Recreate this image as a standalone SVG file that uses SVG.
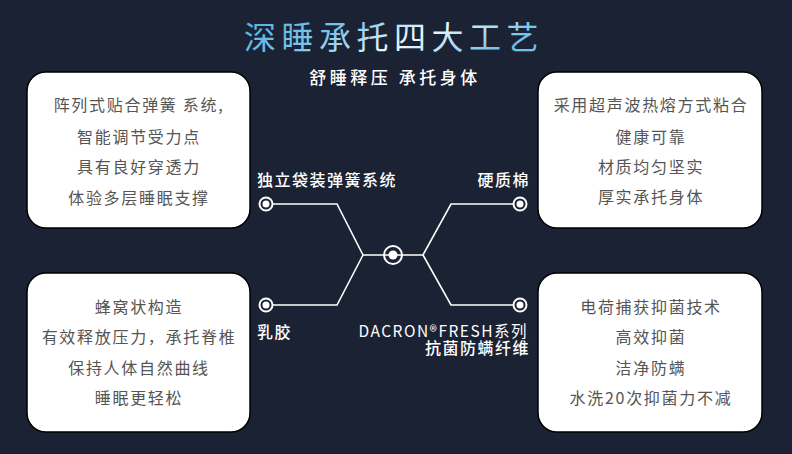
<svg xmlns="http://www.w3.org/2000/svg" width="792" height="454" viewBox="0 0 792 454">
<defs>
<linearGradient id="tg" x1="0" y1="0" x2="1" y2="0.3">
<stop offset="0" stop-color="#4fb0df"/>
<stop offset="0.4" stop-color="#7cc6ec"/>
<stop offset="0.68" stop-color="#f0f9ff"/>
<stop offset="1" stop-color="#6fc0ea"/>
</linearGradient>
</defs>
<style>
.box{fill:#ffffff;stroke:#000000;stroke-width:1.5}
.bt{font-family:"Noto Sans CJK SC","Noto Sans",sans-serif;font-size:16px;letter-spacing:1.7px;fill:#555555;text-anchor:middle}
.lb{font-family:"Noto Sans CJK SC","Noto Sans",sans-serif;font-size:16px;letter-spacing:1.5px;fill:#ffffff;font-weight:500}
.lat{font-family:"Noto Sans CJK SC","Noto Sans",sans-serif;font-size:15.5px;letter-spacing:1.5px;fill:#ffffff;font-weight:400}
.ln{fill:none;stroke:#ffffff;stroke-width:1.6}
.ring{fill:none;stroke:#ffffff;stroke-width:2}
.dot{fill:#ffffff}
</style>
<rect x="0" y="0" width="792" height="454" fill="#1b2233"/>
<text x="394" y="49" text-anchor="middle" font-family="'Noto Sans CJK SC',sans-serif" font-size="32" font-weight="400" letter-spacing="5.5" fill="url(#tg)">深睡承托四大工艺</text>
<text x="395" y="84" text-anchor="middle" font-family="'Noto Sans CJK SC',sans-serif" font-size="17" font-weight="500" letter-spacing="3.5" fill="#ffffff">舒睡释压 承托身体</text>

<g id="connectors">
<path class="ln" d="M273 204 H337 L363 255 H423 L451 204 H513"/>
<path class="ln" d="M273 305 H337 L363 255"/>
<path class="ln" d="M423 255 L451 305 H513"/>
</g>

<g id="hub">
<circle class="ring" cx="393" cy="255" r="9"/>
<circle class="dot" cx="393" cy="255" r="4.5"/>
</g>

<g id="node-spring">
<circle class="ring" cx="266" cy="204" r="6.5"/>
<circle class="dot" cx="266" cy="204" r="3.5"/>
<text class="lb" x="257" y="186">独立袋装弹簧系统</text>
</g>
<g id="node-cotton">
<circle class="ring" cx="520" cy="204" r="6.5"/>
<circle class="dot" cx="520" cy="204" r="3.5"/>
<text class="lb" x="530" y="186" text-anchor="end">硬质棉</text>
</g>
<g id="node-latex">
<circle class="ring" cx="266" cy="305" r="6.5"/>
<circle class="dot" cx="266" cy="305" r="3.5"/>
<text class="lb" x="257" y="338">乳胶</text>
</g>
<g id="node-dacron">
<circle class="ring" cx="520" cy="305" r="6.5"/>
<circle class="dot" cx="520" cy="305" r="3.5"/>
<text class="lat" x="528" y="337" text-anchor="end">DACRON®FRESH系列</text>
<text class="lb" x="530" y="354" text-anchor="end">抗菌防螨纤维</text>
</g>

<g id="box-spring">
<rect class="box" x="27" y="72" width="223" height="156" rx="19"/>
<text class="bt" x="139" y="111">阵列式贴合弹簧 系统,</text>
<text class="bt" x="139" y="143">智能调节受力点</text>
<text class="bt" x="139" y="173">具有良好穿透力</text>
<text class="bt" x="139" y="204">体验多层睡眠支撑</text>
</g>
<g id="box-cotton">
<rect class="box" x="538" y="72" width="224" height="156" rx="19"/>
<text class="bt" x="651" y="111">采用超声波热熔方式粘合</text>
<text class="bt" x="651" y="143">健康可靠</text>
<text class="bt" x="651" y="173">材质均匀坚实</text>
<text class="bt" x="651" y="203">厚实承托身体</text>
</g>
<g id="box-latex">
<rect class="box" x="27" y="273" width="223" height="159" rx="19"/>
<text class="bt" x="139" y="313">蜂窝状构造</text>
<text class="bt" x="139" y="343">有效释放压力，承托脊椎</text>
<text class="bt" x="139" y="374">保持人体自然曲线</text>
<text class="bt" x="139" y="404">睡眠更轻松</text>
</g>
<g id="box-dacron">
<rect class="box" x="538" y="273" width="224" height="159" rx="19"/>
<text class="bt" x="651" y="313">电荷捕获抑菌技术</text>
<text class="bt" x="651" y="343">高效抑菌</text>
<text class="bt" x="651" y="374">洁净防螨</text>
<text class="bt" x="651" y="404">水洗20次抑菌力不减</text>
</g>
</svg>
